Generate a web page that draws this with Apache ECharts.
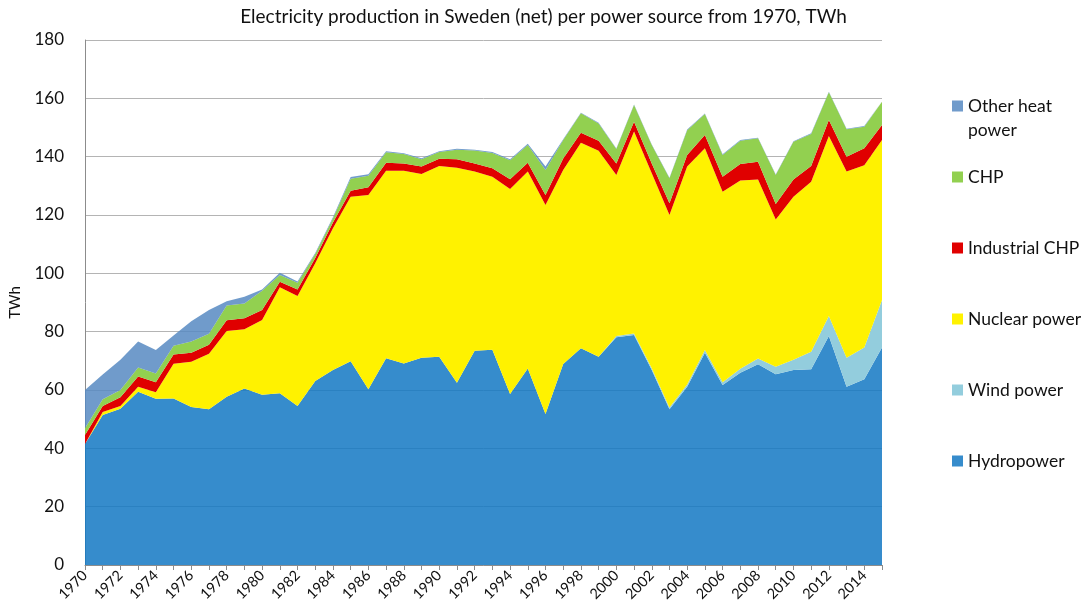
<!DOCTYPE html>
<html>
<head>
<meta charset="utf-8">
<script src="https://cdn.jsdelivr.net/npm/echarts@6/dist/echarts.min.js"></script>
<style>
  html, body { margin: 0; padding: 0; background: #fff; }
  #chart { width: 1087px; height: 613px; }
</style>
</head>
<body>
<div id="chart"></div>
<script>
const years = ['1970','1971','1972','1973','1974','1975','1976','1977','1978','1979',
  '1980','1981','1982','1983','1984','1985','1986','1987','1988','1989',
  '1990','1991','1992','1993','1994','1995','1996','1997','1998','1999',
  '2000','2001','2002','2003','2004','2005','2006','2007','2008','2009',
  '2010','2011','2012','2013','2014','2015']

// TWh per source
const hydro = [41.5, 51.4, 53.6, 59.4, 57.0, 57.1, 54.2, 53.4, 57.7, 60.5,
  58.4, 58.9, 54.5, 63.1, 66.9, 69.9, 60.3, 70.9, 69.1, 71.1,
  71.4, 62.5, 73.5, 73.8, 58.6, 67.4, 51.8, 68.9, 74.3, 71.4,
  78.1, 78.9, 66.9, 53.4, 61.1, 72.8, 61.7, 65.9, 68.8, 65.4,
  66.9, 67.1, 78.5, 61.1, 63.7, 74.6]
const wind = [0, 0, 0, 0, 0, 0, 0, 0, 0, 0,
  0, 0, 0, 0, 0, 0, 0, 0, 0, 0,
  0, 0, 0, 0, 0, 0, 0, 0, 0, 0,
  0.4, 0.5, 0.6, 0.6, 0.8, 0.9, 1.0, 1.4, 2.0, 2.6,
  3.5, 6.0, 6.9, 10.0, 10.9, 16.3]
const nuclear = [0, 1.1, 0.9, 1.7, 2.2, 11.9, 15.5, 19.0, 22.5, 20.3,
  25.6, 36.3, 37.7, 40.4, 48.6, 56.4, 66.6, 64.3, 66.1, 63.0,
  65.4, 73.7, 61.4, 59.3, 70.3, 67.5, 71.6, 66.5, 70.5, 70.6,
  55.2, 69.2, 66.8, 66.0, 74.7, 69.2, 65.3, 64.5, 61.4, 50.5,
  55.9, 58.3, 61.7, 63.8, 62.5, 54.8]
const industrialChp = [3.1, 2.0, 3.0, 3.5, 3.5, 3.2, 3.1, 3.1, 3.7, 3.8,
  3.4, 1.9, 2.3, 1.8, 1.9, 2.0, 2.6, 2.7, 2.5, 2.5,
  2.5, 2.9, 2.8, 2.9, 3.4, 3.0, 3.5, 4.0, 3.4, 3.5,
  4.0, 3.4, 3.4, 4.0, 4.0, 4.5, 5.1, 5.7, 6.1, 5.3,
  5.9, 5.4, 5.5, 5.1, 5.8, 5.2]
const chp = [2.3, 2.3, 2.5, 3.1, 3.0, 3.0, 3.8, 3.8, 5.1, 5.1,
  6.6, 2.3, 2.3, 1.3, 1.4, 4.1, 4.0, 3.6, 3.2, 2.5,
  2.3, 3.3, 4.4, 5.3, 6.5, 6.1, 8.5, 6.3, 6.7, 5.9,
  4.9, 5.7, 6.3, 8.6, 8.5, 7.2, 7.5, 8.0, 8.0, 9.9,
  12.9, 11.0, 9.5, 9.4, 7.4, 7.9]
const otherHeat = [13.1, 8.5, 10.4, 8.9, 8.0, 3.5, 7.0, 8.1, 1.4, 2.3,
  0.5, 0.8, 0.4, 0.4, 0.4, 0.6, 0.5, 0.4, 0.3, 0.4,
  0.3, 0.3, 0.3, 0.3, 0.3, 0.4, 1.2, 0.3, 0.2, 0.2,
  0.2, 0.2, 0.2, 0.2, 0.2, 0.2, 0.2, 0.2, 0.2, 0.2,
  0.2, 0.2, 0.2, 0.2, 0.2, 0.2]

const FONT = 'Lato'

// the two blues are slightly see-through so the gridlines show like in the original
function area(name, data, color) {
  return {
    name,
    type: 'line',
    stack: 'total',
    data,
    symbol: 'none',
    smooth: false,
    lineStyle: { width: 0 },
    areaStyle: { color, opacity: 1 },
    itemStyle: { color },
    emphasis: { disabled: true },
  }
}

const chart = echarts.init(document.getElementById('chart'), null, { renderer: 'canvas' })

chart.setOption({
  animation: false,
  backgroundColor: '#fff',
  title: {
    text: 'Electricity production in Sweden (net) per power source from 1970, TWh',
    left: 'center',
    top: 2,
    textStyle: { fontFamily: FONT, fontSize: 19, fontWeight: 'normal', color: '#111' },
  },
  legend: [
    {
      // two-line item, square lined up with the first line
      data: ['Other heat power'],
      orient: 'vertical',
      left: 952,
      top: 94,
      padding: 0,
      itemWidth: 11,
      itemHeight: 35,
      icon: 'path://M0,0H10V10H0Z M0,31.8L10,31.8',
      itemStyle: { borderWidth: 0 },
      formatter: () => 'Other heat\npower',
      textStyle: { fontFamily: FONT, fontSize: 17.5, lineHeight: 24, color: '#111' },
      selectedMode: false,
    },
    {
      data: ['CHP', 'Industrial CHP', 'Nuclear power', 'Wind power', 'Hydropower'],
      orient: 'vertical',
      left: 952,
      top: 166,
      padding: 0,
      itemWidth: 11,
      itemHeight: 11,
      itemGap: 49,
      icon: 'rect',
      itemStyle: { borderWidth: 0 },
      textStyle: { fontFamily: FONT, fontSize: 17.5, lineHeight: 22, color: '#111' },
      selectedMode: false,
    },
  ],
  grid: { left: 85, right: 205, top: 40, bottom: 48 },
  xAxis: {
    type: 'category',
    data: years,
    boundaryGap: false,
    axisLine: { lineStyle: { color: '#8c8c8c' } },
    axisTick: { show: true, interval: 0, length: 5, lineStyle: { color: '#8c8c8c' } },
    axisLabel: { interval: 1, rotate: 45, fontFamily: FONT, fontSize: 14.5, color: '#111', margin: 8 },
    splitLine: { show: false },
  },
  yAxis: {
    type: 'value',
    min: 0,
    max: 180,
    interval: 20,
    name: 'TWh',
    nameLocation: 'middle',
    nameRotate: 90,
    nameGap: 62,
    nameTextStyle: { fontFamily: FONT, fontSize: 15, color: '#111' },
    axisLine: { show: true, lineStyle: { color: '#8c8c8c' } },
    axisTick: { show: false },
    axisLabel: { fontFamily: FONT, fontSize: 17, color: '#111', margin: 21 },
    splitLine: { lineStyle: { color: '#b4b4b4', width: 1 } },
  },
  series: [
    area('Hydropower', hydro, 'rgba(19,120,195,0.85)'),
    area('Wind power', wind, '#93cddd'),
    area('Nuclear power', nuclear, '#fff200'),
    area('Industrial CHP', industrialChp, '#e00000'),
    area('CHP', chp, '#92d050'),
    area('Other heat power', otherHeat, 'rgba(87,137,194,0.85)'),
  ],
})
</script>
</body>
</html>
